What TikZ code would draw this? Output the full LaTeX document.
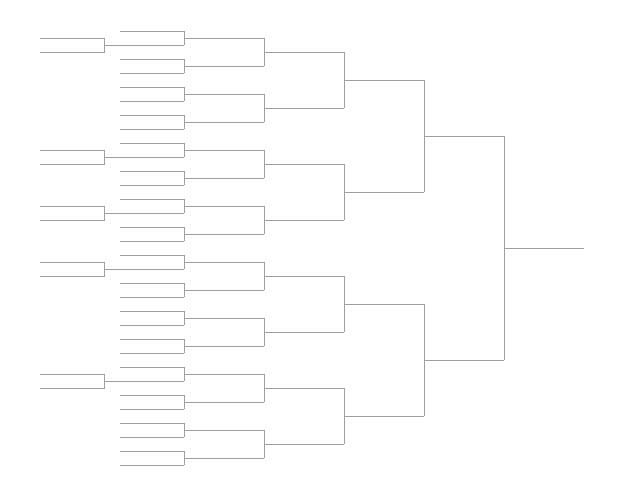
\documentclass[tikz,border=0pt]{standalone}
\usepackage{tikz}
\tikzset{bracket/.style={draw=gray!75,line width=0.8pt}}
\begin{document}
\begin{tikzpicture}[x=1pt,y=-1pt,bracket]
  \useasboundingbox (0,0) rectangle (641,495);
  % first round
  \foreach \k in {0,...,31}{
    \pgfmathsetmacro\yy{31+28*floor(\k/2)+14*mod(\k,2)}
    \coordinate (r1s\k) at (120,\yy);
    \coordinate (r1e\k) at (184,\yy);
    \draw[bracket] (r1s\k) -- (r1e\k);
  }
  % later rounds
  \foreach \r/\n/\yo/\dd in {2/15/38/28,3/7/52/56,4/3/80/112,5/1/136/224,6/0/248/448}{
    \pgfmathtruncatemacro\p{\r-1}
    \foreach \m in {0,...,\n}{
      \pgfmathsetmacro\yy{\yo+\dd*\m}
      \pgfmathsetmacro\xa{184+80*(\r-2)}
      \pgfmathtruncatemacro\a{2*\m}
      \pgfmathtruncatemacro\b{2*\m+1}
      \coordinate (r\r s\m) at (\xa,\yy);
      \coordinate (r\r e\m) at (\xa+80,\yy);
      \draw[bracket] (r\p e\a) -- (r\p e\b);
      \draw[bracket] (r\r s\m) -- (r\r e\m);
    }
  }
  % play-in games
  \foreach \k in {1,9,13,17,25}{
    \coordinate (pa\k) at ([xshift=-80,yshift=-7]r1s\k);
    \coordinate (pb\k) at ([xshift=-80,yshift=7]r1s\k);
    \coordinate (qa\k) at ([xshift=-16,yshift=-7]r1s\k);
    \coordinate (qb\k) at ([xshift=-16,yshift=7]r1s\k);
    \coordinate (qm\k) at ([xshift=-16]r1s\k);
    \draw[bracket] (pa\k) -- (qa\k) -- (qb\k) -- (pb\k);
    \draw[bracket] (qm\k) -- (r1s\k);
  }
\end{tikzpicture}
\end{document}
